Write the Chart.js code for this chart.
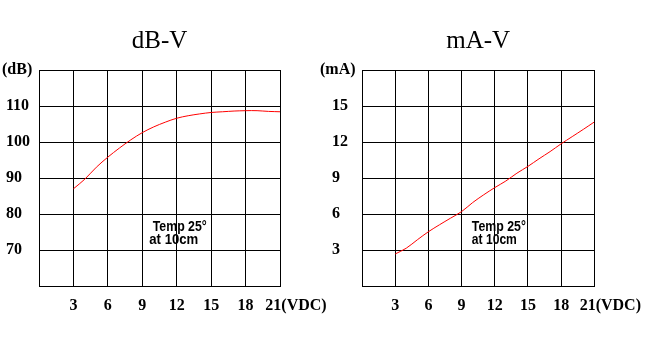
<!DOCTYPE html>
<html><head><meta charset="utf-8">
<script src="https://cdn.jsdelivr.net/npm/chart.js@4/dist/chart.umd.min.js"></script>
<style>
html,body{margin:0;padding:0;background:#fff;}
#wrap{position:relative;width:651px;height:350px;overflow:hidden;}
canvas{position:absolute;left:0;top:0;}
</style></head><body>
<div id="wrap"><canvas id="c1" width="651" height="350"></canvas><canvas id="c2" width="651" height="350"></canvas></div>
<script>
// ---- data ----
const voltages = [3,4,5,6,7,8,9,10,11,12,13,14,15,16,17,18,19,20,21];
const dbValues = [87.0,89.7,93.0,95.8,98.3,100.6,102.6,104.2,105.5,106.6,107.3,107.8,108.2,108.4,108.6,108.7,108.7,108.5,108.4];
const maValues = [2.67,3.15,3.85,4.52,5.1,5.65,6.2,6.95,7.6,8.2,8.75,9.4,9.97,10.6,11.2,11.85,12.45,13.05,13.67];
const xTicks = [0,3,6,9,12,15,18,21];
const dbTicks = [60,70,80,90,100,110,120];
const maTicks = [0,3,6,9,12,15,18];
const chartTitles = ['dB-V','mA-V'];
const yUnits = ['(dB)','(mA)'];
const xUnit = '(VDC)';
const noteLines = ['Temp 25°','at 10cm'];

Chart.defaults.color = '#000';

const notePlugin = {
  id: 'note',
  afterDatasetsDraw(chart, args, opts) {
    const {ctx} = chart;
    const xs = chart.scales.x, ys = chart.scales.y;
    ctx.save();
    ctx.font = 'bold 14px "Liberation Sans", Arial, sans-serif';
    ctx.fillStyle = '#000';
    ctx.textAlign = 'left';
    ctx.textBaseline = 'alphabetic';
    const y0 = ys.getPixelForValue(opts.y);
    noteLines.forEach((t, i) => {
      ctx.fillText(t, xs.getPixelForValue(opts.x[i]), y0 + i * 13.5, opts.maxW[i]);
    });
    ctx.restore();
  }
};

const serif = '"Liberation Serif", "Times New Roman", serif';

function makeChart(id, cfg) {
  const yMin = cfg.yTicks[0], yMax = cfg.yTicks[cfg.yTicks.length - 1];
  const xMin = xTicks[0], xMax = xTicks[xTicks.length - 1];
  return new Chart(document.getElementById(id), {
    type: 'line',
    data: {
      datasets: [{
        data: voltages.map((v, i) => ({x: v, y: cfg.values[i]})),
        borderColor: '#ff0000',
        borderWidth: 1,
        pointRadius: 0,
        tension: 0.35,
        fill: false
      }]
    },
    options: {
      responsive: false,
      animation: false,
      devicePixelRatio: 1,
      layout: {padding: cfg.padding},
      plugins: {
        legend: {display: false},
        tooltip: {enabled: false},
        title: {
          display: true,
          text: cfg.title,
          fullSize: false,
          color: '#000',
          font: {family: serif, size: 25, weight: 'normal', lineHeight: 1.2},
          padding: {top: 26, bottom: 14}
        },
        note: cfg.note
      },
      scales: {
        x: {
          type: 'linear',
          min: xMin, max: xMax,
          afterBuildTicks: s => { s.ticks = xTicks.map(v => ({value: v})); },
          afterFit: s => { s.height = 40; },
          grid: {color: '#000', lineWidth: 1, drawTicks: false},
          border: {display: true, color: '#000', width: 1},
          ticks: {
            padding: 10,
            maxRotation: 0,
            autoSkip: false,
            font: {family: serif, size: 16, weight: 'bold'},
            color: '#000',
            callback: v => v === xMin ? '' : (v === xMax ? '        ' + v + xUnit : String(v))
          }
        },
        y: {
          type: 'linear',
          min: yMin, max: yMax,
          afterBuildTicks: s => { s.ticks = cfg.yTicks.map(v => ({value: v})); },
          afterFit: s => { s.width = cfg.yWidth; },
          grid: {color: '#000', lineWidth: 1, drawTicks: false},
          border: {display: true, color: '#000', width: 1},
          ticks: {
            crossAlign: 'far',
            autoSkip: false,
            font: {family: serif, size: 16, weight: 'bold'},
            color: '#000',
            callback: v => v === yMax ? cfg.unit : (v === yMin ? '' : cfg.pad + v)
          }
        }
      }
    },
    plugins: [notePlugin]
  });
}

makeChart('c1', {
  values: dbValues, yTicks: dbTicks, unit: yUnits[0], title: chartTitles[0],
  pad: ' ',
  padding: {left: 2, right: 371, top: 0, bottom: 24},
  yWidth: 37,
  note: {x: [9.91, 9.61], y: 75.36, maxW: [54, 49]}
});
makeChart('c2', {
  values: maValues, yTicks: maTicks, unit: yUnits[1], title: chartTitles[1],
  pad: '   ',
  padding: {left: 320, right: 48, top: 0, bottom: 24},
  yWidth: 42,
  note: {x: [9.93, 9.93], y: 4.61, maxW: [54, 45]}
});
</script>
</body></html>
